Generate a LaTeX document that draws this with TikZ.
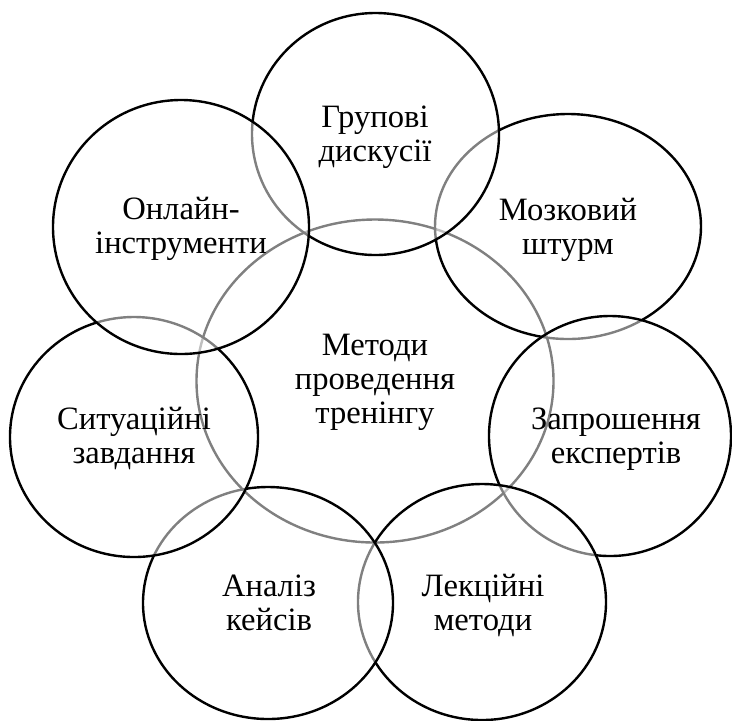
\documentclass[tikz,border=0pt]{standalone}
\usepackage{fontspec}
\setmainfont{Liberation Serif}
\usetikzlibrary{shapes.geometric}

\tikzset{
  krug/.style={ellipse, draw=black, line width=1.2pt, fill=white, fill opacity=0.5, inner sep=0pt},
  napys/.style={align=center, inner sep=0pt, anchor=base, font=\fontsize{16.3}{16.8}\selectfont}
}

\begin{document}
\begin{tikzpicture}[x=0.5pt,y=-0.5pt]
				\useasboundingbox (0,0) rectangle (732,720);
				
				% central ellipse first, the others lie over it
				\node[krug, minimum width=178.5pt, minimum height=161.5pt] (metody) at (375,381) {};
				
				\node[krug, minimum width=133pt, minimum height=112.5pt] (mozok) at (568,226.5) {};
				\node[krug, minimum width=121pt, minimum height=120pt] (zapr) at (610,436) {};
				\node[krug, minimum width=124pt, minimum height=118pt] (lekts) at (482,602) {};
				\node[krug, minimum width=125pt, minimum height=116pt] (analiz) at (268,603) {};
				\node[krug, minimum width=124pt, minimum height=120pt] (sytua) at (134,437) {};
				\node[krug, minimum width=123.5pt, minimum height=121pt] (grup) at (375.5,134) {};
				\node[krug, minimum width=128pt, minimum height=127pt] (onlain) at (181,227) {};
				
				% labels, placed at the baseline of their last line
				\node[napys] (t-metody) at (375,423) {Методи\\проведення\\тренінгу};
				\node[napys] (t-mozok) at (568,254) {Мозковий\\штурм};
				\node[napys] (t-zapr) at (616,463) {Запрошення\\експертів};
				\node[napys] (t-lekts) at (483,630) {Лекційні\\методи};
				\node[napys] (t-analiz) at (269,630) {Аналіз\\кейсів};
				\node[napys] (t-sytua) at (134,463) {Ситуаційні\\завдання};
				\node[napys] (t-grup) at (375,161) {Групові\\дискусії};
				\node[napys] (t-onlain) at (181,253) {Онлайн-\\інструменти};
\end{tikzpicture}
\end{document}
